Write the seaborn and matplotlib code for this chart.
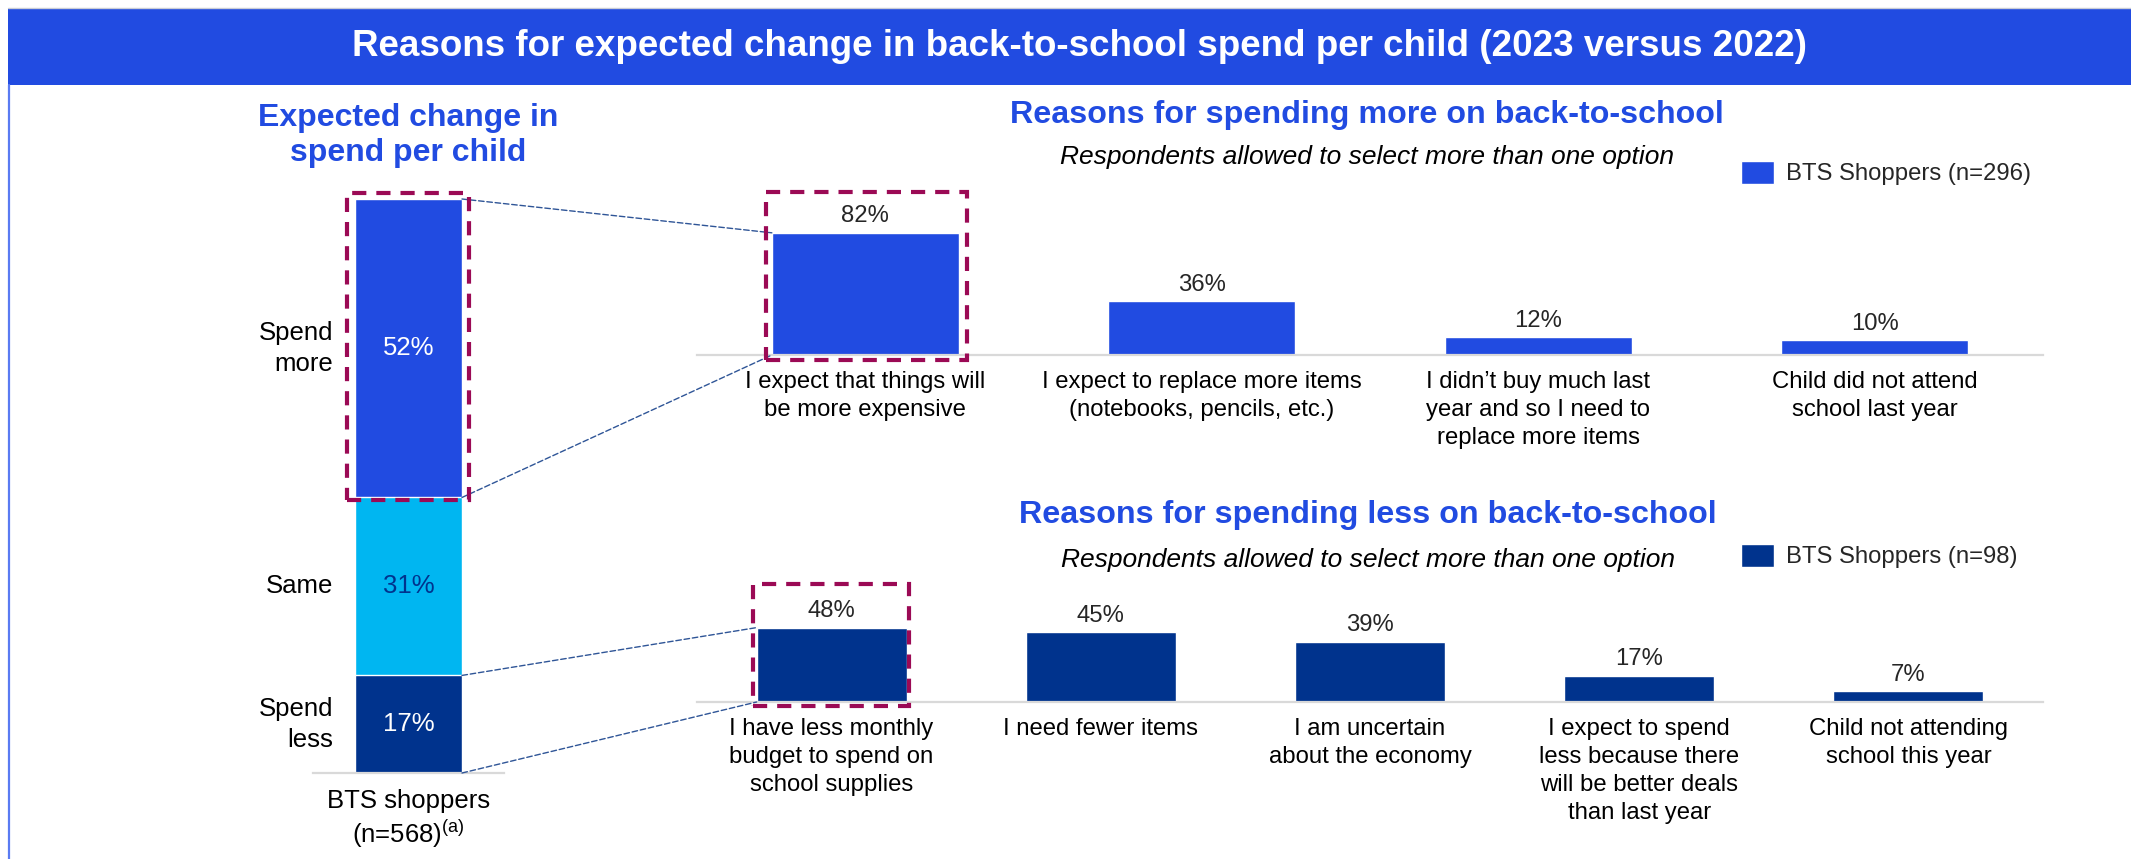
import numpy as np
import matplotlib
matplotlib.use("Agg")
import matplotlib.pyplot as plt
import seaborn as sns
from matplotlib.patches import Rectangle, Patch, ConnectionPatch
from matplotlib.lines import Line2D
from matplotlib.transforms import IdentityTransform, blended_transform_factory

# ---------------- data ----------------
change_labels = ["Spend\nless", "Same", "Spend\nmore"]          # bottom -> top
change_values = [17, 31, 52]
change_tick = "BTS shoppers\n(n=568)$^{\\mathrm{(a)}}$"

more_reasons = [
    "I expect that things will\nbe more expensive",
    "I expect to replace more items\n(notebooks, pencils, etc.)",
    "I didn\u2019t buy much last\nyear and so I need to\nreplace more items",
    "Child did not attend\nschool last year",
]
more_values = [82, 36, 12, 10]
more_legend = "BTS Shoppers (n=296)"

less_reasons = [
    "I have less monthly\nbudget to spend on\nschool supplies",
    "I need fewer items",
    "I am uncertain\nabout the economy",
    "I expect to spend\nless because there\nwill be better deals\nthan last year",
    "Child not attending\nschool this year",
]
less_values = [48, 45, 39, 17, 7]
less_legend = "BTS Shoppers (n=98)"

title = "Reasons for expected change in back-to-school spend per child (2023 versus 2022)"
left_title = "Expected change in\nspend per child"
more_title = "Reasons for spending more on back-to-school"
less_title = "Reasons for spending less on back-to-school"
subtitle = "Respondents allowed to select more than one option"

# ---------------- style ----------------
BLUE = "#214BE1"
LIGHT = "#00B6F1"
NAVY = "#00338D"
BOX = "#9B0A55"
CONN = "#2F5597"
GRID = "#D9D9D9"

sns.set_theme(style="white")
plt.rcParams["font.family"] = ["Liberation Sans", "DejaVu Sans"]
plt.rcParams["mathtext.fontset"] = "custom"
plt.rcParams["mathtext.rm"] = "Liberation Sans"
plt.rcParams["mathtext.it"] = "Liberation Sans:italic"
plt.rcParams["mathtext.bf"] = "Liberation Sans:bold"

W, H = 2131, 859
fig = plt.figure(figsize=(W / 100, H / 100), dpi=100)
fig.patch.set_facecolor("white")


def axes_px(x0, y_top, x1, y_bot):
    return fig.add_axes([x0 / W, 1 - y_bot / H, (x1 - x0) / W, (y_bot - y_top) / H])


def style_axes(ax, n, labelsize, pad):
    ax.set_xlim(-0.5, n - 0.5)
    ax.set_ylim(0, 100)
    for s in ["top", "right", "left"]:
        ax.spines[s].set_visible(False)
    ax.spines["bottom"].set_color(GRID)
    ax.spines["bottom"].set_linewidth(1.6)
    ax.set_yticks([])
    ax.set_xlabel("")
    ax.set_ylabel("")
    ax.tick_params(axis="x", length=0, pad=pad, labelsize=labelsize, colors="black")
    ax.patch.set_alpha(0)


# ---------------- banner ----------------
fig.add_artist(Rectangle((8 / W, 1 - 85 / H), (W - 8) / W, 77 / H,
                         transform=fig.transFigure, facecolor=BLUE, edgecolor="none", zorder=0))
fig.add_artist(Line2D([8 / W, 1], [1 - 7.5 / H] * 2, transform=fig.transFigure,
                      color="#C9CCD6", lw=1))
fig.add_artist(Line2D([9 / W, 9 / W], [0, 1 - 85 / H], transform=fig.transFigure,
                      color="#5A7BF2", lw=1.6))
fig.text(1080 / W, 1 - 46 / H, title, ha="center", va="center", color="white",
         fontsize=26.5, fontweight="bold")

# ---------------- left stacked bar ----------------
axL = axes_px(313, 199, 504, 773)
cum = np.cumsum(change_values)
seg_colors = [NAVY, LIGHT, BLUE]
for i in reversed(range(len(change_values))):
    sns.barplot(x=[change_tick], y=[cum[i]], color=seg_colors[i], width=0.56,
                saturation=1, ax=axL)
style_axes(axL, 1, 18.5, 11.5)
for lbl in axL.get_xticklabels():
    lbl.set_linespacing(1.2)
mids = cum - np.array(change_values) / 2
txt_colors = ["white", NAVY, "white"]
blend = blended_transform_factory(axL.transAxes, axL.transData)
for m, v, c, lab in zip(mids, change_values, txt_colors, change_labels):
    axL.text(0, m, f"{v}%", ha="center", va="center", color=c, fontsize=18.5)
    axL.text(0.105, m, lab, ha="right", va="center", color="black", fontsize=18.5,
             transform=blend, linespacing=1.35)

fig.text(408 / W, 1 - 135.5 / H, left_title, ha="center", va="center", color=BLUE,
         fontsize=23, fontweight="bold", linespacing=1.25)

# ---------------- top chart ----------------
axT = axes_px(697, 206, 2043, 355)
sns.barplot(x=more_reasons, y=more_values, color=BLUE, width=0.555, saturation=1, ax=axT)
style_axes(axT, len(more_values), 17.2, 11.5)
for lbl in axT.get_xticklabels():
    lbl.set_linespacing(1.35)
axT.bar_label(axT.containers[0], labels=[f"{v}%" for v in more_values], padding=4, fontsize=17.2)

fig.text(1367 / W, 1 - 115 / H, more_title, ha="center", va="center", color=BLUE,
         fontsize=23.2, fontweight="bold")
fig.text(1367 / W, 1 - 157 / H, subtitle, ha="center", va="center", color="black",
         fontsize=19, fontstyle="italic")
fig.legend([Patch(facecolor=BLUE)], [more_legend], loc="center left",
           bbox_to_anchor=(1741 / W, 1 - 173 / H), frameon=False, borderpad=0,
           borderaxespad=0, handlelength=1.4, handleheight=1.1, handletextpad=0.47,
           fontsize=17.2)

# ---------------- bottom chart ----------------
axB = axes_px(697, 547, 2043, 702)
sns.barplot(x=less_reasons, y=less_values, color=NAVY, width=0.557, saturation=1, ax=axB)
style_axes(axB, len(less_values), 17.2, 11.5)
for lbl in axB.get_xticklabels():
    lbl.set_linespacing(1.35)
axB.bar_label(axB.containers[0], labels=[f"{v}%" for v in less_values], padding=4, fontsize=17.2)

fig.text(1368 / W, 1 - 515 / H, less_title, ha="center", va="center", color=BLUE,
         fontsize=23.2, fontweight="bold")
fig.text(1368 / W, 1 - 560 / H, subtitle, ha="center", va="center", color="black",
         fontsize=19, fontstyle="italic")
fig.legend([Patch(facecolor=NAVY)], [less_legend], loc="center left",
           bbox_to_anchor=(1741 / W, 1 - 556 / H), frameon=False, borderpad=0,
           borderaxespad=0, handlelength=1.4, handleheight=1.1, handletextpad=0.47,
           fontsize=17.2)

# ---------------- dashed highlight boxes ----------------
def dashed_box(x0, y0, x1, y1):
    fig.add_artist(Rectangle((x0, y0), x1 - x0, y1 - y0, transform=IdentityTransform(),
                             fill=False, edgecolor=BOX, lw=3.0,
                             linestyle=(0, (3.4, 2.4)), zorder=10))

pL = axL.patches[0]
lx0 = axL.transData.transform((pL.get_x(), 0))[0]
lx1 = axL.transData.transform((pL.get_x() + pL.get_width(), 0))[0]
ly_lo = axL.transData.transform((0, cum[1]))[1]
ly_hi = axL.transData.transform((0, cum[2]))[1]
dashed_box(lx0 - 8, ly_lo - 3, lx1 + 7, ly_hi + 6)

pT = axT.patches[0]
tx0, ty0 = axT.transData.transform((pT.get_x(), 0))
tx1, ty1 = axT.transData.transform((pT.get_x() + pT.get_width(), pT.get_height()))
dashed_box(tx0 - 6, ty0 - 5, tx1 + 8, ty1 + 41)

pB = axB.patches[0]
bx0, by0 = axB.transData.transform((pB.get_x(), 0))
bx1, by1 = axB.transData.transform((pB.get_x() + pB.get_width(), pB.get_height()))
dashed_box(bx0 - 4, by0 - 4, bx1 + 2, by1 + 44)

# ---------------- connectors ----------------
xr = pL.get_x() + pL.get_width()
pairs = [
    ((xr, cum[2]), axT, (pT.get_x(), pT.get_height())),
    ((xr, cum[1]), axT, (pT.get_x(), 0)),
    ((xr, cum[0]), axB, (pB.get_x(), pB.get_height())),
    ((xr, 0), axB, (pB.get_x(), 0)),
]
for a, axo, b in pairs:
    con = ConnectionPatch(xyA=a, coordsA=axL.transData, xyB=b, coordsB=axo.transData,
                          color=CONN, lw=1.0, linestyle=(0, (4, 2)), zorder=5)
    fig.add_artist(con)

fig.savefig("out.png", dpi=100, facecolor="white")
